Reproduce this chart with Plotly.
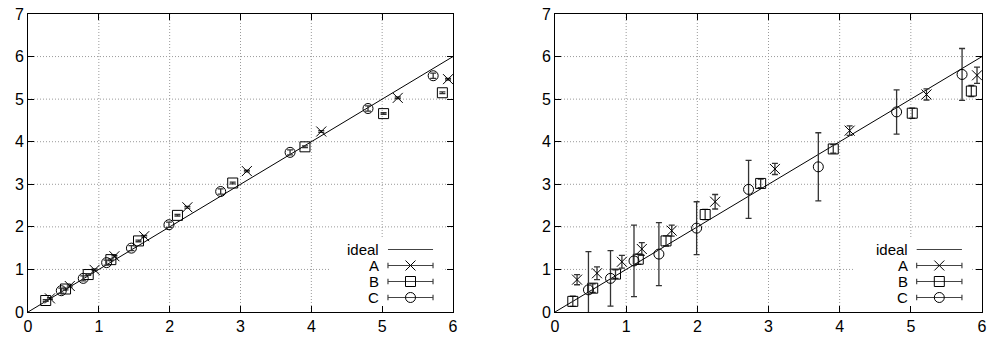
import plotly.graph_objects as go

# ---------------- data ----------------
xA = [0.31, 0.59, 0.94, 1.22, 1.64, 2.25, 3.09, 4.14, 5.22, 5.93]
xB = [0.25, 0.53, 0.85, 1.17, 1.56, 2.11, 2.89, 3.91, 5.02, 5.85]
xC = [0.47, 0.78, 1.11, 1.46, 1.99, 2.72, 3.70, 4.80, 5.72]

# left panel (small errors)
yA_left = [0.32, 0.61, 0.99, 1.31, 1.78, 2.46, 3.31, 4.24, 5.03, 5.47]
yB_left = [0.27, 0.54, 0.88, 1.23, 1.67, 2.27, 3.03, 3.88, 4.66, 5.15]
yC_left = [0.50, 0.79, 1.16, 1.50, 2.05, 2.83, 3.75, 4.78, 5.55]
eA_left = [0.02] * 10
eB_left = [0.02] * 10
eC_left = [0.06] * 9

# right panel (larger errors)
yA_right = [0.76, 0.91, 1.18, 1.48, 1.91, 2.59, 3.36, 4.26, 5.11, 5.56]
yB_right = [0.25, 0.56, 0.89, 1.24, 1.67, 2.29, 3.02, 3.83, 4.67, 5.19]
yC_right = [0.52, 0.79, 1.20, 1.36, 1.97, 2.88, 3.41, 4.70, 5.58]
eA_right = [0.12, 0.15, 0.15, 0.15, 0.13, 0.17, 0.13, 0.11, 0.13, 0.19]
eB_right = [0.12, 0.10, 0.10, 0.12, 0.12, 0.12, 0.10, 0.10, 0.12, 0.13]
eC_right = [0.90, 0.65, 0.84, 0.74, 0.62, 0.68, 0.80, 0.52, 0.61]

ideal_x = [0, 6]
ideal_y = [0, 6]

x_ticks = [0, 1, 2, 3, 4, 5, 6]
y_ticks = [0, 1, 2, 3, 4, 5, 6, 7]
legend_labels = ["ideal", "A", "B", "C"]

# ---------------- styling ----------------
FONT = "Liberation Sans, Arial, sans-serif"
symbols = {"A": "x-thin-open", "B": "square-open", "C": "circle-open"}
sizes = {"A": 10, "B": 10, "C": 10}
GRID = dict(color="#9a9a9a", width=1, dash="1px,2px")

fig = go.Figure()


def add_panel(xa, ya, ys, es):
    fig.add_trace(go.Scatter(x=ideal_x, y=ideal_y, mode="lines",
                             line=dict(color="black", width=1),
                             xaxis=xa, yaxis=ya, showlegend=False, hoverinfo="skip"))
    for name, xs, yv, ev in zip(["A", "B", "C"], [xA, xB, xC], ys, es):
        fig.add_trace(go.Scatter(
            x=xs, y=yv, mode="markers", name=name, showlegend=False,
            xaxis=xa, yaxis=ya,
            marker=dict(symbol=symbols[name], size=sizes[name], color="black",
                        line=dict(color="black", width=1)),
            error_y=dict(type="data", array=ev, visible=True, color="#333333",
                         thickness=1.3, width=3)))


add_panel("x", "y", [yA_left, yB_left, yC_left], [eA_left, eB_left, eC_left])
add_panel("x2", "y2", [yA_right, yB_right, yC_right], [eA_right, eB_right, eC_right])

axis_common = dict(
    showgrid=False, zeroline=False, showline=True, linecolor="black", linewidth=1,
    mirror="allticks", ticks="inside", ticklen=6, tickcolor="black",
    tickfont=dict(family=FONT, size=16, color="black"),
)

L_dom = [0.0, 425 / 954]
R_dom = [527 / 954, 1.0]

fig.update_layout(
    width=988, height=341,
    margin=dict(l=28, r=6, t=14, b=29, autoexpand=False),
    plot_bgcolor="white", paper_bgcolor="white",
    showlegend=False,
    xaxis=dict(domain=L_dom, range=[0, 6], tickvals=x_ticks, anchor="y", **axis_common),
    yaxis=dict(domain=[0, 1], range=[0, 7], tickvals=y_ticks, anchor="x", **axis_common),
    xaxis2=dict(domain=R_dom, range=[0, 6], tickvals=x_ticks, anchor="y2", **axis_common),
    yaxis2=dict(domain=[0, 1], range=[0, 7], tickvals=y_ticks, anchor="x2", **axis_common),
)

# ---------------- grid + custom key (gnuplot style) ----------------
key_rows = [0.2097, 0.1560, 0.1023, 0.0487]   # y domain fraction of each key row
text_right = 0.829
samp_l, samp_r = 0.847, 0.953
samp_mid = (samp_l + samp_r) / 2
cap = 0.009

shapes = []
annotations = []
for xa, ya, box in [("x", "y", (0.711, 0.976)), ("x2", "y2", (0.700, 0.977))]:
    xd, yd = xa + " domain", ya + " domain"
    # grid lines (dotted), drawn below traces
    for t in x_ticks[1:-1]:
        shapes.append(dict(type="line", xref=xa, yref=yd, x0=t, x1=t, y0=0, y1=1,
                           line=GRID, layer="below"))
    for t in y_ticks[1:-1]:
        shapes.append(dict(type="line", xref=xd, yref=ya, x0=0, x1=1, y0=t, y1=t,
                           line=GRID, layer="below"))
    # opaque key box over the grid
    shapes.append(dict(type="rect", xref=xd, yref=yd, x0=box[0], x1=box[1], y0=0.0, y1=0.245,
                       fillcolor="white", line=dict(width=0), layer="below"))
    for i, (lab, ry) in enumerate(zip(legend_labels, key_rows)):
        annotations.append(dict(text=lab, xref=xd, yref=yd, x=text_right, y=ry,
                                xanchor="right", yanchor="middle", showarrow=False,
                                borderpad=0,
                                font=dict(family=FONT, size=15, color="black")))
        shapes.append(dict(type="line", xref=xd, yref=yd, x0=samp_l, x1=samp_r, y0=ry, y1=ry,
                           line=dict(color="#444444", width=1.2), layer="below"))
        if i > 0:
            for cx in (samp_l, samp_r):
                shapes.append(dict(type="line", xref=xd, yref=yd, x0=cx, x1=cx,
                                   y0=ry - cap, y1=ry + cap,
                                   line=dict(color="#444444", width=1.2), layer="below"))
    for name, ry in zip(["A", "B", "C"], key_rows[1:]):
        fig.add_trace(go.Scatter(
            x=[samp_mid * 6], y=[ry * 7], mode="markers", xaxis=xa, yaxis=ya,
            showlegend=False, hoverinfo="skip",
            marker=dict(symbol=symbols[name], size=sizes[name], color="black",
                        line=dict(color="black", width=1))))

fig.update_layout(shapes=shapes, annotations=annotations)
fig.write_html("out.html",
               config={"displayModeBar": False},
               post_script="document.body.style.margin='0';document.body.style.overflow='hidden';")
